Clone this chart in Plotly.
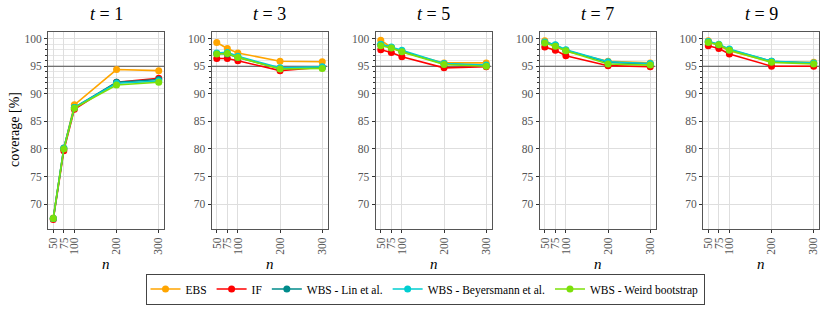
import plotly.graph_objects as go

n_values = [50, 75, 100, 200, 300]
t_values = [1, 3, 5, 7, 9]
methods = ["EBS", "IF", "WBS - Lin et al.", "WBS - Beyersmann et al.", "WBS - Weird bootstrap"]
colors = ["#FFA500", "#FF0000", "#008B8B", "#00CED1", "#7CE00A"]

# coverage [%] per method, one list per t (n = 50, 75, 100, 200, 300)
ebs = {
    1: [67.5, 80.0, 88.0, 94.4, 94.2],
    3: [99.3, 98.2, 97.4, 95.9, 95.8],
    5: [99.7, 98.4, 97.6, 95.6, 95.6],
    7: [99.6, 98.7, 97.7, 95.9, 95.6],
    9: [99.6, 98.7, 97.8, 95.8, 95.7],
}
if_ = {
    1: [67.2, 79.7, 87.2, 92.1, 92.8],
    3: [96.4, 96.4, 96.0, 94.2, 94.8],
    5: [98.0, 97.5, 96.7, 94.7, 94.9],
    7: [98.5, 97.9, 96.9, 95.1, 94.9],
    9: [98.7, 98.2, 97.2, 95.0, 95.0],
}
wbs_lin = {
    1: [67.4, 80.2, 87.5, 92.1, 92.6],
    3: [97.3, 97.2, 96.6, 94.6, 94.7],
    5: [98.9, 98.4, 97.7, 95.4, 95.1],
    7: [99.3, 98.8, 97.9, 95.7, 95.4],
    9: [99.4, 98.9, 98.0, 95.9, 95.5],
}
wbs_beyersmann = {
    1: [67.4, 80.1, 87.5, 91.9, 92.3],
    3: [97.4, 97.5, 96.8, 94.7, 94.9],
    5: [99.0, 98.5, 97.9, 95.5, 95.2],
    7: [99.4, 98.9, 98.0, 95.8, 95.5],
    9: [99.5, 99.0, 98.1, 95.9, 95.6],
}
wbs_weird = {
    1: [67.4, 80.0, 87.4, 91.6, 92.1],
    3: [97.2, 97.3, 96.6, 94.5, 94.6],
    5: [98.7, 98.3, 97.6, 95.3, 95.0],
    7: [99.2, 98.6, 97.8, 95.4, 95.2],
    9: [99.3, 98.9, 97.9, 95.7, 95.4],
}
series = [ebs, if_, wbs_lin, wbs_beyersmann, wbs_weird]

y_major = [70, 75, 80, 85, 90, 95, 100]
y_minor = [91, 92, 93, 94, 96, 97, 98, 99]

W, H = 830, 312
FONT = "Liberation Serif"
lefts = [48, 211.5, 375.5, 539.5, 703]
pw = 116
top_px, bot_px = 32, 229

fig = go.Figure()
for k, t in enumerate(t_values):
    sfx = "" if k == 0 else str(k + 1)
    xd = [lefts[k] / W, (lefts[k] + pw) / W]
    yd = [(H - bot_px) / H, (H - top_px) / H]
    # reference line at 95 % drawn as a trace so it sits above the grid
    fig.add_trace(go.Scatter(
        x=[37.5, 312.5], y=[95, 95], mode="lines", showlegend=False, hoverinfo="skip",
        line=dict(color="#4d4d4d", width=1.1), xaxis="x" + sfx, yaxis="y" + sfx))
    for m, (name, col, data) in enumerate(zip(methods, colors, series)):
        fig.add_trace(go.Scatter(
            x=n_values, y=data[t], mode="lines+markers", name=name,
            line=dict(color=col, width=1.6), marker=dict(color=col, size=7),
            xaxis="x" + sfx, yaxis="y" + sfx, showlegend=(k == 0),
            legendgroup=name))
    axcommon = dict(showline=True, mirror=True, linecolor="#555555", linewidth=1,
                    gridcolor="#dedede", gridwidth=1, zeroline=False,
                    ticks="outside", ticklen=3, tickcolor="#333333",
                    tickfont=dict(family=FONT, size=11.5, color="#555555"),
                    automargin=False)
    fig.update_layout(**{
        "xaxis" + sfx: dict(domain=xd, range=[37.5, 312.5], tickvals=n_values,
                            ticktext=[str(v) for v in n_values], tickangle=-90,
                            anchor="y" + sfx, **axcommon),
        "yaxis" + sfx: dict(domain=yd, range=[65.5, 101.2], tickvals=y_major,
                            anchor="x" + sfx,
                            minor=dict(tickmode="array", tickvals=y_minor, showgrid=True,
                                       gridcolor="#e6e6e6", ticks="outside", ticklen=2,
                                       tickcolor="#333333"),
                            **axcommon),
    })
    cx = (lefts[k] + pw / 2) / W
    fig.add_annotation(x=cx, y=(H - 14) / H, xref="paper", yref="paper",
                       xanchor="center", yanchor="middle",
                       text=f"<i>t</i> = {t}", showarrow=False,
                       font=dict(family=FONT, size=18, color="black"))
    fig.add_annotation(x=cx, y=(H - 264) / H, xref="paper", yref="paper",
                       xanchor="center", yanchor="middle",
                       text="<i>n</i>", showarrow=False,
                       font=dict(family=FONT, size=15, color="black"))

fig.add_annotation(x=14 / W, y=(H - 130) / H, xref="paper", yref="paper",
                   xanchor="center", yanchor="middle",
                   text="coverage [%]", textangle=-90, showarrow=False,
                   font=dict(family=FONT, size=14, color="black"))

fig.update_layout(
    width=W, height=H, margin=dict(l=0, r=0, t=0, b=0),
    paper_bgcolor="white", plot_bgcolor="white",
    font=dict(family=FONT, color="black"),
    hovermode=False,
    legend=dict(orientation="h", x=425 / W, xanchor="center", y=(H - 289) / H,
                yanchor="middle", bordercolor="#444444", borderwidth=1,
                font=dict(family=FONT, size=11.5, color="black"),
                itemwidth=30),
)
fig.write_html("out.html", config={"displayModeBar": False},
               post_script="document.body.style.margin='0';")
